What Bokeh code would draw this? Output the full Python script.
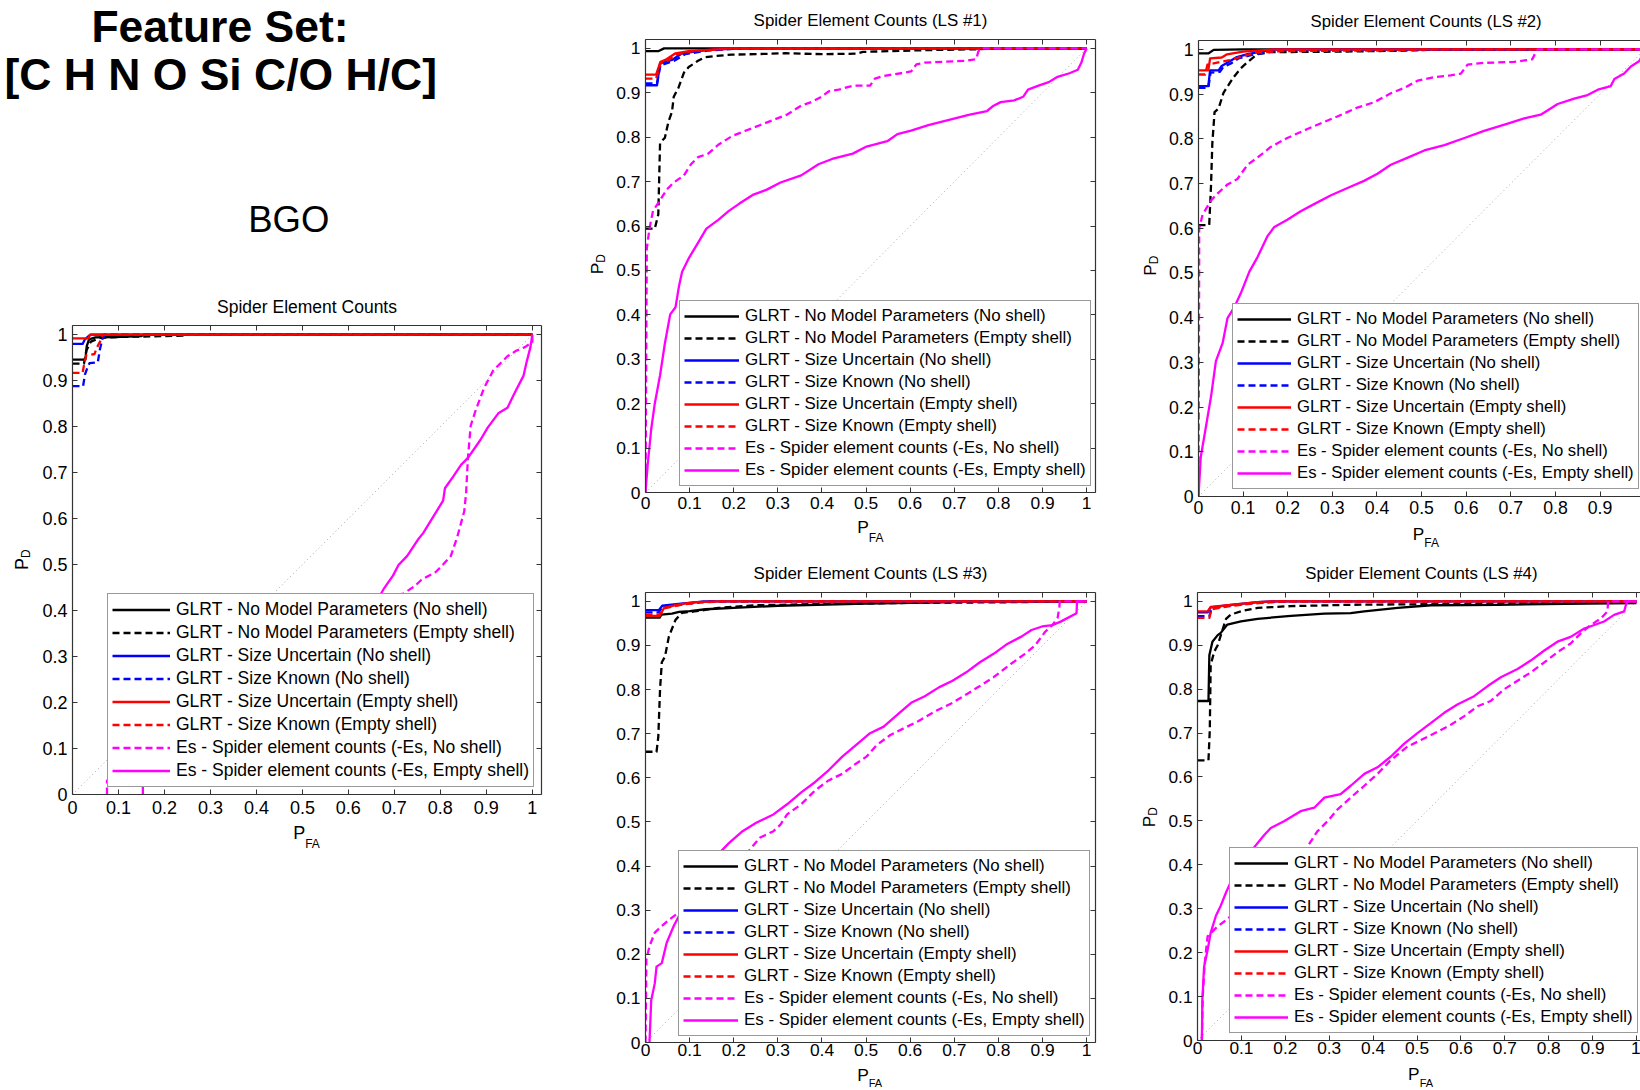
from math import pi

from bokeh.embed import file_html
from bokeh.layouts import column, row
from bokeh.models import FixedTicker, Label, Legend, LegendItem, LinearAxis, Range1d
from bokeh.plotting import figure
from bokeh.resources import INLINE

# ---------------------------------------------------------------- data
TICKS = [0.0, 0.1, 0.2, 0.3, 0.4, 0.5, 0.6, 0.7, 0.8, 0.9, 1.0]
TICK_LABELS = ["0", "0.1", "0.2", "0.3", "0.4", "0.5", "0.6", "0.7", "0.8", "0.9", "1"]
DIAG = [0.0, 1.0]

SERIES_NAMES = [
    "GLRT - No Model Parameters (No shell)",
    "GLRT - No Model Parameters (Empty shell)",
    "GLRT - Size Uncertain (No shell)",
    "GLRT - Size Known (No shell)",
    "GLRT - Size Uncertain (Empty shell)",
    "GLRT - Size Known (Empty shell)",
    "Es - Spider element counts (-Es, No shell)",
    "Es - Spider element counts (-Es, Empty shell)",
]

PANEL_TITLES = [
    "Spider Element Counts",
    "Spider Element Counts (LS #1)",
    "Spider Element Counts (LS #2)",
    "Spider Element Counts (LS #3)",
    "Spider Element Counts (LS #4)",
]

HEADER_LINE1 = "Feature Set:"
HEADER_LINE2 = "[C H N O Si C/O H/C]"
DETECTOR = "BGO"
X_LABEL, X_SUB = "P", "FA"
Y_LABEL, Y_SUB = "P", "D"

# ROC curves as (P_FA, P_D) points
BGO_NM_NS = [(0, 0.946), (0.028, 0.946), (0.031, 0.975), (0.036, 0.99), (0.05, 0.994),
             (0.09, 0.995), (0.15, 0.997), (0.155, 1.0), (1, 1)]
BGO_NM_ES = [(0, 0.937), (0.025, 0.937), (0.03, 0.965), (0.04, 0.985), (0.06, 0.993),
             (0.1, 0.995), (0.2, 0.997), (0.24, 0.998), (0.245, 1.0), (1, 1)]
BGO_SU_NS = [(0, 0.98), (0.022, 0.98), (0.027, 0.99), (0.035, 0.997), (0.04, 1.0), (1, 1)]
BGO_SK_NS = [(0, 0.888), (0.023, 0.888), (0.027, 0.913), (0.033, 0.93), (0.037, 0.938),
             (0.055, 0.94), (0.06, 0.97), (0.065, 0.99), (0.07, 1.0), (1, 1)]
BGO_SU_ES = [(0, 0.992), (0.035, 0.992), (0.038, 1.0), (1, 1)]
BGO_SK_ES = [(0, 0.917), (0.022, 0.917), (0.026, 0.94), (0.03, 0.955), (0.048, 0.958),
             (0.052, 0.97), (0.06, 0.985), (0.065, 1.0), (1, 1)]
BGO_ES_NS = [(0.075, 0), (0.075, 0.03), (0.2, 0.15), (0.45, 0.33), (0.67, 0.428), (0.72, 0.437),
             (0.744, 0.453), (0.759, 0.467), (0.79, 0.484), (0.806, 0.5), (0.823, 0.519),
             (0.837, 0.561), (0.852, 0.616), (0.856, 0.655), (0.86, 0.732), (0.866, 0.802),
             (0.876, 0.833), (0.895, 0.884), (0.915, 0.922), (0.946, 0.953), (0.965, 0.965),
             (0.984, 0.973), (1.0, 0.984), (1.0, 1.0)]
BGO_ES_ES = [(0.153, 0), (0.153, 0.03), (0.4, 0.2), (0.6, 0.36), (0.666, 0.428), (0.678, 0.449),
             (0.697, 0.476), (0.709, 0.499), (0.728, 0.519), (0.751, 0.554), (0.763, 0.569),
             (0.782, 0.6), (0.806, 0.639), (0.81, 0.666), (0.829, 0.693), (0.845, 0.717),
             (0.86, 0.732), (0.887, 0.771), (0.903, 0.798), (0.926, 0.829), (0.946, 0.841),
             (0.961, 0.872), (0.981, 0.911), (0.988, 0.942), (0.996, 0.973), (1.0, 1.0)]

LS1_NM_NS = [(0, 0.994), (0.03, 0.994), (0.042, 1.0), (1, 1)]
LS1_NM_ES = [(0, 0.594), (0.021, 0.594), (0.029, 0.626), (0.033, 0.787), (0.044, 0.799),
             (0.052, 0.835), (0.06, 0.857), (0.064, 0.891), (0.075, 0.912), (0.087, 0.945),
             (0.098, 0.958), (0.119, 0.972), (0.134, 0.98), (0.159, 0.983), (0.196, 0.986),
             (0.25, 0.987), (0.317, 0.989), (0.4, 0.987), (0.477, 0.988), (0.493, 0.992),
             (0.633, 0.996), (0.75, 0.998), (0.8, 1.0), (1, 1)]
LS1_SU_NS = [(0, 0.917), (0.026, 0.917), (0.033, 0.966), (0.06, 0.974), (0.083, 0.989),
             (0.136, 0.996), (0.21, 1.0), (1, 1)]
LS1_SK_NS = [(0, 0.921), (0.026, 0.921), (0.034, 0.962), (0.065, 0.972), (0.09, 0.987),
             (0.14, 0.995), (0.22, 1.0), (1, 1)]
LS1_SU_ES = [(0, 0.941), (0.024, 0.941), (0.034, 0.97), (0.045, 0.974), (0.068, 0.989),
             (0.098, 0.994), (0.196, 1.0), (1, 1)]
LS1_SK_ES = [(0, 0.932), (0.024, 0.932), (0.034, 0.966), (0.05, 0.972), (0.07, 0.986),
             (0.1, 0.993), (0.2, 1.0), (1, 1)]
LS1_ES_NS = [(0, 0), (0.003, 0.55), (0.009, 0.594), (0.017, 0.634), (0.033, 0.658),
             (0.048, 0.682), (0.064, 0.698), (0.087, 0.714), (0.103, 0.739), (0.119, 0.755),
             (0.142, 0.763), (0.165, 0.783), (0.197, 0.803), (0.228, 0.815), (0.259, 0.827),
             (0.29, 0.839), (0.321, 0.851), (0.353, 0.871), (0.376, 0.879), (0.399, 0.891),
             (0.415, 0.903), (0.438, 0.907), (0.47, 0.916), (0.509, 0.916), (0.52, 0.932),
             (0.54, 0.938), (0.579, 0.944), (0.602, 0.948), (0.614, 0.964), (0.633, 0.968),
             (0.68, 0.97), (0.727, 0.972), (0.75, 0.976), (0.754, 0.992), (0.758, 0.998),
             (0.76, 1.0), (1, 1)]
LS1_ES_ES = [(0, 0), (0.005, 0.063), (0.013, 0.143), (0.021, 0.2), (0.033, 0.264),
             (0.044, 0.336), (0.056, 0.401), (0.068, 0.417), (0.076, 0.465), (0.083, 0.497),
             (0.099, 0.529), (0.119, 0.562), (0.138, 0.594), (0.165, 0.614), (0.189, 0.634),
             (0.212, 0.65), (0.243, 0.67), (0.275, 0.682), (0.306, 0.698), (0.353, 0.714),
             (0.392, 0.739), (0.423, 0.751), (0.47, 0.763), (0.501, 0.779), (0.548, 0.791),
             (0.571, 0.807), (0.602, 0.815), (0.641, 0.827), (0.688, 0.839), (0.735, 0.851),
             (0.774, 0.859), (0.789, 0.871), (0.805, 0.879), (0.836, 0.883), (0.856, 0.891),
             (0.867, 0.907), (0.891, 0.916), (0.914, 0.924), (0.934, 0.936), (0.961, 0.944),
             (0.98, 0.952), (0.988, 0.968), (0.994, 0.988), (1.0, 1.0)]

LS2_NM_NS = [(0, 0.991), (0.022, 0.991), (0.034, 0.999), (0.1, 1.0), (1, 1)]
LS2_NM_ES = [(0, 0.607), (0.024, 0.607), (0.028, 0.694), (0.031, 0.79), (0.036, 0.86),
             (0.045, 0.868), (0.056, 0.903), (0.078, 0.937), (0.095, 0.958), (0.108, 0.97),
             (0.131, 0.989), (0.16, 0.994), (0.3, 0.995), (0.45, 0.997), (0.5, 0.999), (1, 1)]
LS2_SU_NS = [(0, 0.918), (0.022, 0.918), (0.026, 0.953), (0.045, 0.953), (0.052, 0.963),
             (0.071, 0.974), (0.086, 0.983), (0.112, 0.99), (0.17, 1.0), (1, 1)]
LS2_SK_NS = [(0, 0.914), (0.022, 0.914), (0.027, 0.948), (0.048, 0.95), (0.055, 0.96),
             (0.075, 0.97), (0.09, 0.98), (0.12, 0.988), (0.18, 0.998), (1, 1)]
LS2_SU_ES = [(0, 0.953), (0.022, 0.953), (0.026, 0.98), (0.052, 0.982), (0.064, 0.989),
             (0.1, 0.995), (0.17, 1.0), (1, 1)]
LS2_SK_ES = [(0, 0.944), (0.015, 0.944), (0.02, 0.966), (0.05, 0.972), (0.07, 0.976),
             (0.1, 0.985), (0.13, 0.993), (0.18, 0.996), (0.3, 0.997), (0.45, 0.998),
             (0.5, 1.0), (1, 1)]
LS2_ES_NS = [(0, 0), (0.0015, 0.52), (0.0015, 0.599), (0.009, 0.63), (0.028, 0.662),
             (0.043, 0.678), (0.065, 0.698), (0.087, 0.71), (0.11, 0.742), (0.132, 0.758),
             (0.162, 0.782), (0.199, 0.802), (0.244, 0.822), (0.282, 0.838), (0.311, 0.85),
             (0.356, 0.87), (0.394, 0.882), (0.431, 0.902), (0.461, 0.914), (0.491, 0.93),
             (0.528, 0.938), (0.565, 0.942), (0.588, 0.946), (0.603, 0.966), (0.64, 0.97),
             (0.707, 0.972), (0.748, 0.978), (0.756, 0.994), (0.758, 0.998), (0.76, 1.0), (1, 1)]
LS2_ES_ES = [(0, 0), (0.005, 0.088), (0.016, 0.152), (0.028, 0.223), (0.039, 0.303),
             (0.054, 0.343), (0.065, 0.399), (0.08, 0.423), (0.095, 0.455), (0.114, 0.503),
             (0.132, 0.535), (0.155, 0.583), (0.17, 0.603), (0.199, 0.619), (0.229, 0.638),
             (0.259, 0.654), (0.297, 0.674), (0.334, 0.69), (0.371, 0.706), (0.401, 0.722),
             (0.431, 0.742), (0.469, 0.758), (0.506, 0.774), (0.551, 0.786), (0.596, 0.802),
             (0.64, 0.818), (0.693, 0.834), (0.73, 0.846), (0.767, 0.854), (0.805, 0.878),
             (0.842, 0.89), (0.872, 0.898), (0.895, 0.91), (0.924, 0.918), (0.932, 0.934),
             (0.954, 0.946), (0.969, 0.962), (0.988, 0.974), (0.992, 0.982), (1.0, 1.0)]

LS3_NM_NS = [(0, 0.963), (0.032, 0.963), (0.036, 0.97), (0.06, 0.972), (0.076, 0.976),
             (0.1, 0.978), (0.136, 0.982), (0.2, 0.985), (0.3, 0.99), (0.5, 0.995),
             (0.7, 0.998), (0.72, 1.0), (1, 1)]
LS3_NM_ES = [(0, 0.659), (0.025, 0.659), (0.029, 0.693), (0.033, 0.801), (0.037, 0.862),
             (0.044, 0.874), (0.053, 0.92), (0.068, 0.958), (0.083, 0.974), (0.111, 0.977),
             (0.165, 0.985), (0.243, 0.991), (0.399, 0.994), (0.555, 0.996), (0.828, 0.998), (1, 1)]
LS3_SU_NS = [(0, 0.98), (0.03, 0.98), (0.038, 0.99), (0.08, 0.995), (0.136, 1.0), (1, 1)]
LS3_SK_NS = [(0, 0.975), (0.03, 0.975), (0.038, 0.987), (0.09, 0.994), (0.14, 1.0), (1, 1)]
LS3_SU_ES = [(0, 0.967), (0.032, 0.967), (0.042, 0.985), (0.076, 0.993), (0.113, 0.998),
             (0.17, 1.0), (1, 1)]
LS3_SK_ES = [(0, 0.97), (0.032, 0.97), (0.042, 0.984), (0.08, 0.992), (0.12, 0.997),
             (0.18, 1.0), (1, 1)]
LS3_ES_NS = [(0, 0), (0.002, 0.188), (0.009, 0.218), (0.021, 0.249), (0.037, 0.264),
             (0.056, 0.28), (0.076, 0.295), (0.12, 0.33), (0.18, 0.39), (0.228, 0.427),
             (0.259, 0.464), (0.29, 0.479), (0.306, 0.494), (0.321, 0.517), (0.353, 0.54),
             (0.384, 0.571), (0.415, 0.594), (0.446, 0.609), (0.477, 0.632), (0.501, 0.648),
             (0.524, 0.674), (0.555, 0.697), (0.587, 0.713), (0.618, 0.728), (0.657, 0.751),
             (0.696, 0.77), (0.727, 0.789), (0.758, 0.808), (0.789, 0.828), (0.828, 0.858),
             (0.86, 0.881), (0.883, 0.9), (0.906, 0.931), (0.922, 0.946), (0.934, 0.962),
             (0.938, 0.985), (0.939, 1.0), (1, 1)]
LS3_ES_ES = [(0.009, 0), (0.013, 0.096), (0.021, 0.134), (0.025, 0.172), (0.037, 0.18),
             (0.048, 0.226), (0.064, 0.264), (0.076, 0.287), (0.1, 0.33), (0.14, 0.39),
             (0.165, 0.427), (0.189, 0.452), (0.22, 0.479), (0.251, 0.498), (0.29, 0.517),
             (0.321, 0.54), (0.353, 0.567), (0.384, 0.59), (0.415, 0.617), (0.446, 0.648),
             (0.477, 0.674), (0.509, 0.701), (0.54, 0.716), (0.571, 0.743), (0.602, 0.77),
             (0.633, 0.785), (0.665, 0.805), (0.696, 0.82), (0.727, 0.839), (0.758, 0.862),
             (0.789, 0.881), (0.821, 0.904), (0.852, 0.92), (0.875, 0.935), (0.899, 0.943),
             (0.922, 0.946), (0.941, 0.954), (0.977, 0.973), (0.978, 0.996), (0.98, 1.0), (1, 1)]

LS4_NM_NS = [(0, 0.773), (0.025, 0.773), (0.027, 0.877), (0.034, 0.908), (0.046, 0.923),
             (0.053, 0.928), (0.068, 0.947), (0.099, 0.954), (0.137, 0.96), (0.213, 0.967),
             (0.289, 0.972), (0.349, 0.973), (0.38, 0.977), (0.456, 0.985), (0.532, 0.991),
             (0.683, 0.992), (0.835, 0.994), (1, 0.996)]
LS4_NM_ES = [(0, 0.638), (0.025, 0.638), (0.028, 0.707), (0.03, 0.855), (0.038, 0.885),
             (0.046, 0.9), (0.057, 0.935), (0.065, 0.96), (0.076, 0.97), (0.106, 0.979),
             (0.137, 0.985), (0.213, 0.989), (0.349, 0.992), (0.607, 0.994), (0.759, 0.996), (1, 1)]
LS4_SU_NS = [(0, 0.975), (0.023, 0.975), (0.03, 0.986), (0.076, 0.992), (0.137, 0.998),
             (0.17, 1.0), (1, 1)]
LS4_SK_NS = [(0, 0.966), (0.027, 0.966), (0.032, 0.984), (0.08, 0.991), (0.14, 0.997),
             (0.2, 1.0), (1, 1)]
LS4_SU_ES = [(0, 0.977), (0.023, 0.977), (0.03, 0.987), (0.076, 0.992), (0.137, 0.998),
             (0.17, 1.0), (1, 1)]
LS4_SK_ES = [(0, 0.962), (0.027, 0.962), (0.032, 0.982), (0.08, 0.99), (0.14, 0.996),
             (0.2, 1.0), (1, 1)]
LS4_ES_NS = [(0.01, 0), (0.012, 0.1), (0.016, 0.17), (0.02, 0.21), (0.023, 0.237),
             (0.046, 0.26), (0.068, 0.276), (0.12, 0.33), (0.19, 0.39), (0.243, 0.43),
             (0.273, 0.476), (0.296, 0.499), (0.319, 0.526), (0.349, 0.553), (0.38, 0.58),
             (0.41, 0.607), (0.44, 0.638), (0.478, 0.669), (0.509, 0.684), (0.547, 0.703),
             (0.577, 0.719), (0.607, 0.738), (0.638, 0.761), (0.668, 0.773), (0.699, 0.8),
             (0.729, 0.819), (0.759, 0.838), (0.79, 0.861), (0.82, 0.884), (0.85, 0.904),
             (0.873, 0.927), (0.896, 0.946), (0.919, 0.961), (0.934, 0.977), (0.935, 0.996),
             (0.937, 1.0), (1, 1)]
LS4_ES_ES = [(0.01, 0), (0.011, 0.091), (0.015, 0.168), (0.023, 0.206), (0.03, 0.245),
             (0.042, 0.284), (0.053, 0.307), (0.065, 0.337), (0.08, 0.37), (0.1, 0.4),
             (0.121, 0.43), (0.152, 0.468), (0.167, 0.484), (0.197, 0.499), (0.235, 0.522),
             (0.266, 0.53), (0.289, 0.553), (0.326, 0.561), (0.349, 0.58), (0.38, 0.607),
             (0.41, 0.622), (0.44, 0.646), (0.471, 0.676), (0.501, 0.7), (0.532, 0.723),
             (0.562, 0.746), (0.592, 0.765), (0.63, 0.784), (0.661, 0.807), (0.691, 0.827),
             (0.729, 0.846), (0.759, 0.865), (0.79, 0.888), (0.82, 0.908), (0.85, 0.919),
             (0.881, 0.938), (0.904, 0.946), (0.926, 0.954), (0.949, 0.969), (0.972, 0.977),
             (0.976, 0.992), (0.98, 1.0), (1, 1)]

BGO_CURVES = [BGO_NM_NS, BGO_NM_ES, BGO_SU_NS, BGO_SK_NS, BGO_SU_ES, BGO_SK_ES, BGO_ES_NS, BGO_ES_ES]
LS1_CURVES = [LS1_NM_NS, LS1_NM_ES, LS1_SU_NS, LS1_SK_NS, LS1_SU_ES, LS1_SK_ES, LS1_ES_NS, LS1_ES_ES]
LS2_CURVES = [LS2_NM_NS, LS2_NM_ES, LS2_SU_NS, LS2_SK_NS, LS2_SU_ES, LS2_SK_ES, LS2_ES_NS, LS2_ES_ES]
LS3_CURVES = [LS3_NM_NS, LS3_NM_ES, LS3_SU_NS, LS3_SK_NS, LS3_SU_ES, LS3_SK_ES, LS3_ES_NS, LS3_ES_ES]
LS4_CURVES = [LS4_NM_NS, LS4_NM_ES, LS4_SU_NS, LS4_SK_NS, LS4_SU_ES, LS4_SK_ES, LS4_ES_NS, LS4_ES_ES]

# ---------------------------------------------------------------- styling
FONT = "Liberation Sans"
COLORS = ["#000000", "#000000", "#0000ff", "#0000ff", "#ff0000", "#ff0000", "#ff00ff", "#ff00ff"]
DASHES = ["solid", "7 4", "solid", "7 4", "solid", "7 4", "7 4", "solid"]
LINE_W = 2.3
AXIS_COLOR = "#333333"
GRID_COLOR = "#8e8e8e"
TB, LB = 6, 36          # top / left border of each axes figure
MID = 0.3465            # baseline sits this many ems below the middle of a text line


def text_fig(x0, y0, w, h):
    """Blank canvas whose data coordinates are block pixels (y grows downward)."""
    f = figure(width=w, height=h, x_range=Range1d(x0, x0 + w), y_range=Range1d(y0 + h, y0),
               min_border=0, min_border_left=0, min_border_right=0, min_border_top=0,
               min_border_bottom=0, output_backend="svg", toolbar_location=None,
               x_axis_type=None, y_axis_type=None)
    f.outline_line_color = None
    f.background_fill_color = "white"
    f.border_fill_color = "white"
    return f


def put(f, x, y, text, size, align="center", baseline="middle", angle=0.0, style="normal"):
    f.add_layout(Label(x=x, y=y, text=text, angle=angle, text_font=FONT,
                       text_font_size=f"{size}px", text_font_style=style,
                       text_align=align, text_baseline=baseline, text_color="#000000"))


def put_on_baseline(f, x, base, text, size, align="center", style="normal"):
    put(f, x, base - MID * size, text, size, align=align, style=style)


def axes_fig(curves, fw, fh, rb, bb, x_end, font, tick_font, x_standoff, legend_xy,
             row_h, glyph_w, box_right):
    p = figure(frame_width=fw, frame_height=fh,
               min_border_left=LB, min_border_right=rb, min_border_top=TB, min_border_bottom=bb,
               x_range=Range1d(0, x_end), y_range=Range1d(0, 1.02),
               output_backend="svg", toolbar_location=None,
               x_axis_type=None, y_axis_type=None)
    p.outline_line_color = None
    p.background_fill_color = "white"
    p.border_fill_color = "white"

    ticker = FixedTicker(ticks=TICKS)
    overrides = dict(zip(TICKS, TICK_LABELS))

    def axis(side, labelled):
        ax = LinearAxis(ticker=ticker, axis_line_color=AXIS_COLOR, axis_line_width=1.2,
                        major_tick_line_color=AXIS_COLOR, major_tick_in=5, major_tick_out=0,
                        minor_tick_line_color=None)
        if labelled:
            ax.major_label_overrides = overrides
            ax.major_label_text_font = FONT
            ax.major_label_text_font_size = f"{tick_font}px"
            ax.major_label_text_color = "#000000"
            ax.major_label_standoff = x_standoff if side == "below" else 5
        else:
            ax.major_label_text_font_size = "1px"
            ax.major_label_text_color = None
            ax.major_label_standoff = 0
        p.add_layout(ax, side)

    axis("below", True)
    axis("left", True)
    axis("above", False)
    if box_right:
        axis("right", False)

    p.xgrid.ticker = ticker
    p.ygrid.ticker = ticker
    for g in (p.xgrid, p.ygrid):
        g.grid_line_color = GRID_COLOR
        g.grid_line_dash = "1 3"
        g.grid_line_width = 1

    # chance diagonal
    p.line(DIAG, DIAG, line_color="#a8a8a8", line_dash="1 3", line_width=1)

    items = []
    for name, pts, color, dash in zip(SERIES_NAMES, curves, COLORS, DASHES):
        xs = [a for a, _ in pts]
        ys = [b for _, b in pts]
        r = p.line(xs, ys, line_color=color, line_dash=dash, line_width=LINE_W,
                   line_join="round")
        items.append(LegendItem(label=name, renderers=[r]))

    legend = Legend(items=items, location=legend_xy, margin=0, padding=4, spacing=0,
                    glyph_width=glyph_w, glyph_height=row_h, label_height=row_h,
                    label_standoff=6, label_text_font=FONT,
                    label_text_font_size=f"{font}px", label_text_color="#000000",
                    border_line_color="#333333", border_line_width=1,
                    background_fill_color="white", background_fill_alpha=1.0)
    p.add_layout(legend)
    return p


def block(title, curves, W, H, fl, ft, fw, fh, rb, bb, x_end, font, tick_font, x_standoff,
          legend_xy, row_h, glyph_w, xbase, sub_drop, sub_size=12, ylab=None, box_right=True):
    ux = fw / x_end
    uy = fh / 1.02
    top = text_fig(0, 0, W, ft - TB)
    put(top, fl + 0.51 * ux, ft - 19, title, font)

    yfig = text_fig(0, ft - TB, fl - LB, TB + fh + bb)
    if ylab is not None:
        ydx, ydy = ylab
        yy = ft + fh - 0.52 * uy + ydy
        put(yfig, fl - 45 + ydx, yy, Y_LABEL, font + 0.5, align="right",
            baseline="alphabetic", angle=pi / 2)
        put(yfig, fl - 40.5 + ydx, yy, Y_SUB, 12, align="left",
            baseline="alphabetic", angle=pi / 2)

    ax = axes_fig(curves, fw, fh, rb, bb, x_end, font, tick_font, x_standoff, legend_xy,
                  row_h, glyph_w, box_right)

    y_bot = ft + fh + bb
    bottom = text_fig(0, y_bot, W, H - y_bot)
    xx = fl + 0.506 * ux
    put_on_baseline(bottom, xx, ft + fh + xbase, X_LABEL, font + 0.5, align="right")
    put_on_baseline(bottom, xx, ft + fh + xbase + sub_drop, X_SUB, sub_size, align="left")
    return top, column(top, row(yfig, ax, spacing=0), bottom, spacing=0)


bgo_top, bgo = block(PANEL_TITLES[0], BGO_CURVES, 560, 1090, 72, 325, 469, 469, 19, 27, 1.02,
                     17.5, 18, 6, (35, 7), 23, 58, 44.5, 9.5, ylab=(-6, 13))
put_on_baseline(bgo_top, 219.5, 41, HEADER_LINE1, 44.5, style="bold")
put_on_baseline(bgo_top, 220.2, 89.3, HEADER_LINE2, 44.5, style="bold")
put_on_baseline(bgo_top, 288.3, 231.7, DETECTOR, 36.5)

_, ls1 = block(PANEL_TITLES[1], LS1_CURVES, 565, 548, 85, 39, 450, 453, 30, 24, 1.02,
               16.9, 17.4, 4, (34, 6), 22, 55, 41, 8.5, ylab=(-4, 10))
_, ls3 = block(PANEL_TITLES[3], LS3_CURVES, 565, 542, 85, 44, 450, 450, 30, 21, 1.02,
               16.9, 17.4, 1, (33, 6), 22, 55, 38.5, 6, sub_size=11)
_, ls2 = block(PANEL_TITLES[2], LS2_CURVES, 515, 551, 73, 40, 442, 456, 0, 24, 442 / 446.2,
               16.7, 17.7, 4, (34, 7), 22, 54, 43, 8, ylab=(-4, 9), box_right=False)
_, ls4 = block(PANEL_TITLES[4], LS4_CURVES, 515, 539, 72, 41, 443, 448, 0, 21, 443 / 439.0,
               16.8, 17.3, 1, (32, 7), 22, 54, 39.5, 6.5, sub_size=11, ylab=(-4, 11),
               box_right=False)

layout = row(bgo, column(ls1, ls3, spacing=0), column(ls2, ls4, spacing=0), spacing=0)

with open("out.html", "w") as f:
    f.write(file_html(layout, INLINE, title="ROC curves"))
